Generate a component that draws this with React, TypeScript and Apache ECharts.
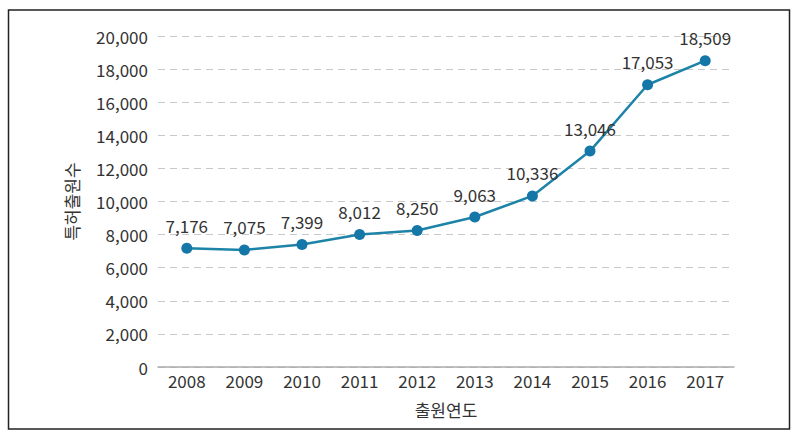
import React, { useEffect, useRef } from "react";
import * as echarts from "echarts";

const years = ["2008", "2009", "2010", "2011", "2012", "2013", "2014", "2015", "2016", "2017"];
const applications = [7176, 7075, 7399, 8012, 8250, 9063, 10336, 13046, 17053, 18509];
const yAxisName = "특허출원수";
const xAxisName = "출원연도";

export default function App() {
  const ref = useRef<HTMLDivElement>(null);
  useEffect(() => {
    document.body.style.margin = "0";
    const chart = echarts.init(ref.current!, null, { renderer: "svg" });
    const font = "'Noto Sans CJK KR', 'Noto Sans', sans-serif";
    chart.setOption({
      animation: false,
      backgroundColor: "#fff",
      textStyle: { fontFamily: font },
      graphic: [
        {
          type: "rect",
          shape: { x: 8.5, y: 10, width: 781, height: 419 },
          style: { fill: "none", stroke: "#222", lineWidth: 1.5 },
          silent: true,
        },
      ],
      grid: { left: 158, right: 66, top: 36, bottom: 69 },
      xAxis: {
        type: "category",
        data: years,
        boundaryGap: true,
        name: xAxisName,
        nameLocation: "middle",
        nameGap: 34,
        nameTextStyle: { fontSize: 17, color: "#333", fontFamily: font },
        axisLine: { lineStyle: { color: "#aaa", width: 1.5 } },
        axisTick: { show: false },
        axisLabel: { fontSize: 17, color: "#333", margin: 5, fontFamily: font },
      },
      yAxis: {
        type: "value",
        min: 0,
        max: 20000,
        interval: 2000,
        name: yAxisName,
        nameLocation: "middle",
        nameGap: 78,
        nameTextStyle: { fontSize: 17, color: "#333", fontFamily: font },
        axisLine: { show: false },
        axisTick: { show: false },
        axisLabel: {
          fontSize: 17,
          color: "#333",
          margin: 10,
          fontFamily: font,
          formatter: (v: number) => v.toLocaleString("en-US"),
        },
        splitLine: { lineStyle: { color: "#c8c8c8", type: [7, 5], width: 1.2 } },
      },
      series: [
        {
          type: "line",
          data: applications,
          symbol: "circle",
          symbolSize: 11,
          lineStyle: { color: "#1d84a8", width: 2.5 },
          itemStyle: { color: "#1577a8" },
          label: {
            show: true,
            position: "top",
            distance: 9,
            fontSize: 17,
            color: "#333",
            fontFamily: font,
            formatter: (p: any) => Number(p.value).toLocaleString("en-US"),
          },
        },
      ],
    });
    return () => chart.dispose();
  }, []);
  return (
    <div
      ref={ref}
      style={{ position: "absolute", left: 0, top: 0, width: 800, height: 436 }}
    />
  );
}
